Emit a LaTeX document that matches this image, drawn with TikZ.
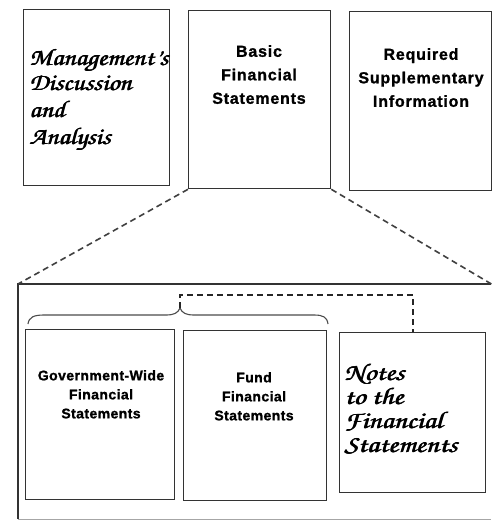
\documentclass[tikz,border=0pt]{standalone}
\usepackage[T1]{fontenc}
\usepackage{fontspec}
\newfontfamily\hvfont{Liberation Sans}[UprightFont={* Bold}, BoldFont={* Bold}, LetterSpace=5, FakeBold=1.2]
\newfontfamily\hvlow{Liberation Sans}[UprightFont={* Bold}, BoldFont={* Bold}, LetterSpace=3, FakeBold=1.2]
\newcommand\scrfont{\fontencoding{T1}\fontfamily{pzc}\fontseries{mb}\fontshape{it}\selectfont}
\newcommand\heavyline[2]{\scalebox{#1}[1]{\rlap{\kern0.7pt #2}\rlap{\kern0.35pt\raisebox{0.4pt}{#2}}#2}}
\tikzset{
  box/.style={draw=black!80, line width=1.3pt, inner sep=0pt, anchor=north west},
  topsans/.style={font=\hvfont\fontsize{16}{23.5}\selectfont, align=center, inner sep=0pt, anchor=north},
  lowsans/.style={font=\hvlow\fontsize{14}{19}\selectfont, align=center, inner sep=0pt, anchor=north},
  scripttext/.style={font=\scrfont\fontsize{24}{25}\selectfont, align=left, inner sep=0pt, anchor=north west},
  zoomline/.style={draw=black!75, line width=1.6pt, dash pattern=on 6pt off 4pt},
  linkline/.style={draw=black!85, line width=1.5pt, dash pattern=on 6pt off 4pt},
}
\begin{document}
\begin{tikzpicture}[x=1pt,y=-1pt]
\useasboundingbox (0,0) rectangle (493,523);
% top row
\node[box, minimum width=146pt, minimum height=176pt] (mda) at (23,9) {};
\node[box, minimum width=142pt, minimum height=178pt] (basic) at (188,10) {};
\node[box, minimum width=142pt, minimum height=179pt] (rsi) at (349,11) {};
\node[scripttext] (mdatext) at (29,48) {\heavyline{1.12}{Management's}\\\heavyline{1.12}{Discussion}\\[2pt]\heavyline{1.12}{and}\\[2pt]\heavyline{1.12}{Analysis}};
\node[topsans] (basictext) at (259,45) {Basic\\Financial\\Statements};
\node[topsans] (rsitext) at (421,48) {Required\\Supplementary\\Information};
% large lower frame
\node[inner sep=0pt, minimum width=473pt, minimum height=235pt, anchor=north west] (big) at (18,284) {};
\draw[black!80, line width=1.3pt] (big.north east) -- (big.north west) -- (big.south west);
\draw[black!35, line width=0.8pt] (big.south west) -- (big.south east);
% zoom lines
\draw[zoomline] (basic.south west) -- (big.north west);
\draw[zoomline] (basic.south east) -- (big.north east);
% lower boxes
\node[box, minimum width=149pt, minimum height=170pt] (gov) at (25,329) {};
\node[box, minimum width=143pt, minimum height=170pt] (fund) at (183,330) {};
\node[box, minimum width=146pt, minimum height=160pt] (notes) at (339,332) {};
\node[lowsans] (govtext) at (101,370) {Government-Wide\\Financial\\Statements};
\node[lowsans] (fundtext) at (254,372) {Fund\\Financial\\Statements};
\node[scripttext, font=\scrfont\fontsize{24}{22}\selectfont] (notestext) at (344,363) {\heavyline{1.2}{Notes}\\[2pt]\heavyline{1.2}{to the}\\[2pt]\heavyline{1.2}{Financial}\\[2pt]\heavyline{1.2}{Statements}};
% brace
\coordinate (bracetip) at (180,308);
\draw[black!70, line width=1.1pt] (28,324) .. controls (29,317) and (34,315) .. (44,315)
  -- (166,315) .. controls (174,315) and (178,313) .. (bracetip)
  .. controls (182,313) and (186,315) .. (194,315)
  -- (314,315) .. controls (323,315) and (327,317) .. (328,324);
% link from brace to notes
\coordinate (linktop) at (180,295);
\draw[linkline] (bracetip) -- (linktop) -| (notes.north -| 413,0);
\end{tikzpicture}
\end{document}
